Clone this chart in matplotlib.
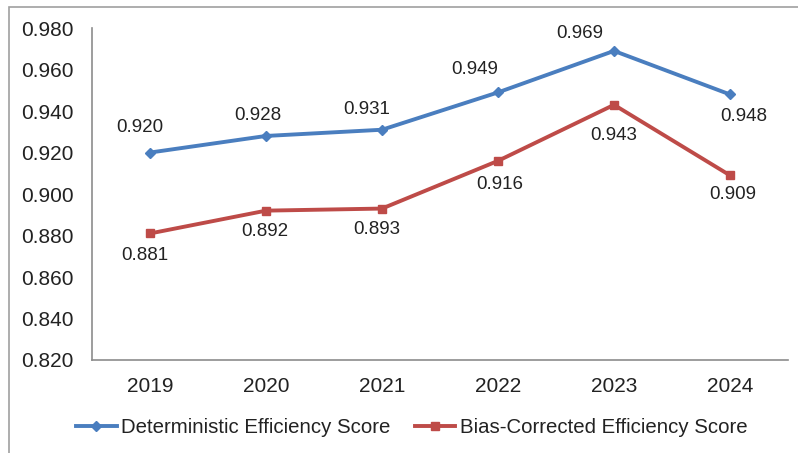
import matplotlib.pyplot as plt
from matplotlib.patches import Rectangle

plt.rcParams['font.family'] = ['Liberation Sans', 'DejaVu Sans']

years = ['2019', '2020', '2021', '2022', '2023', '2024']
det_score = [0.920, 0.928, 0.931, 0.949, 0.969, 0.948]
bc_score = [0.881, 0.892, 0.893, 0.916, 0.943, 0.909]
yticks = [0.820, 0.840, 0.860, 0.880, 0.900, 0.920, 0.940, 0.960, 0.980]

# label offsets from each point, in pixels (dx, dy)
det_offsets = [(-10, 25), (-8, 20), (-15, 20), (-23, 23), (-34, 17), (14, -22)]
bc_offsets = [(-5, -22), (-1, -21), (-5, -21), (2, -24), (0, -31), (3, -19)]

blue = '#4A7EBF'
red = '#BE4B48'
txt = '#222222'

fig = plt.figure(figsize=(7.98, 4.53), dpi=100)
ax = fig.add_axes([0.1153, 0.2053, 0.8722, 0.7327])

x = list(range(len(years)))
ax.plot(x, det_score, color=blue, lw=2.8, marker='D', ms=5.5,
        label='Deterministic Efficiency Score')
ax.plot(x, bc_score, color=red, lw=2.8, marker='s', ms=6,
        label='Bias-Corrected Efficiency Score')

px = 0.72  # points per pixel at 100 dpi
for i, v in enumerate(det_score):
    dx, dy = det_offsets[i]
    ax.annotate(f'{v:.3f}', (i, v), xytext=(dx * px, dy * px), textcoords='offset points',
                ha='center', va='center', fontsize=13.5, color=txt)
for i, v in enumerate(bc_score):
    dx, dy = bc_offsets[i]
    ax.annotate(f'{v:.3f}', (i, v), xytext=(dx * px, dy * px), textcoords='offset points',
                ha='center', va='center', fontsize=13.5, color=txt)

ax.set_xlim(-0.5, len(years) - 0.5)
ax.set_ylim(0.820, 0.980)
ax.set_yticks(yticks)
ax.set_yticklabels([f'{t:.3f}' for t in yticks])
ax.set_xticks(x)
ax.set_xticklabels(years)
ax.tick_params(axis='both', length=0, labelsize=15, colors=txt)
ax.tick_params(axis='y', pad=13)
ax.tick_params(axis='x', pad=12)

for s in ['top', 'right']:
    ax.spines[s].set_visible(False)
for s in ['left', 'bottom']:
    ax.spines[s].set_color('#8C8C8C')
    ax.spines[s].set_linewidth(1.2)

fig.legend(loc='center', bbox_to_anchor=(0.5157, 0.057), ncol=2, frameon=False,
           fontsize=14.7, handlelength=2.0, handletextpad=0.2, columnspacing=1.2,
           labelcolor=txt)

# outer chart border (only top and left edges fall inside the image)
fig.patches.append(Rectangle((0.0115, -0.05), 1.1, 1.0345, transform=fig.transFigure,
                             fill=False, edgecolor='#A0A0A0', lw=1.2))

fig.savefig('out.png', dpi=100)
